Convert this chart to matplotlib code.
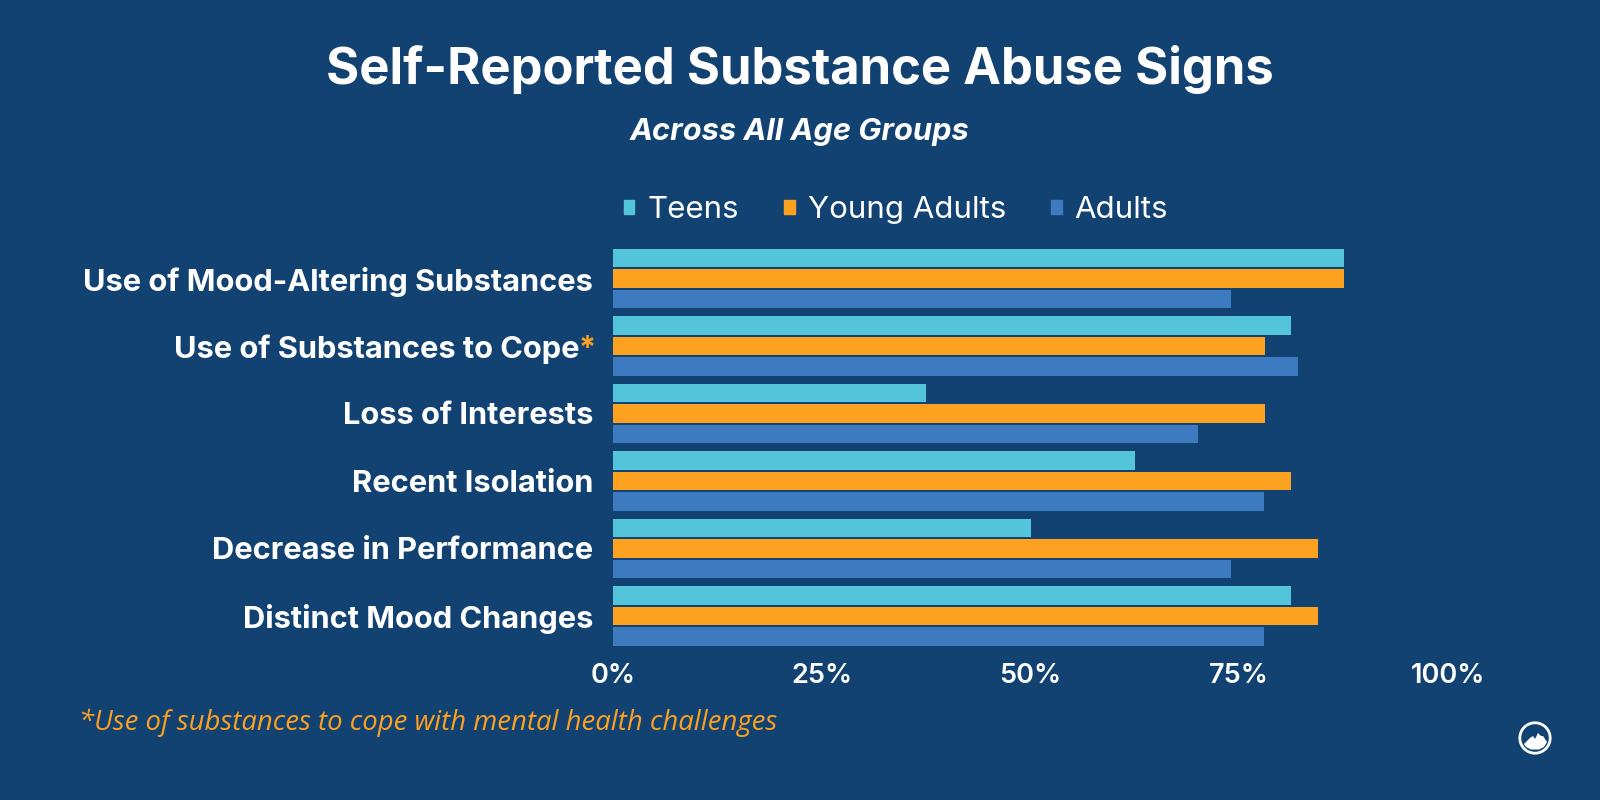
import matplotlib
matplotlib.use("Agg")
import matplotlib.pyplot as plt
from matplotlib.patches import Patch, Circle, Polygon
import numpy as np

categories = ["Use of Mood-Altering Substances", "Use of Substances to Cope", "Loss of Interests",
              "Recent Isolation", "Decrease in Performance", "Distinct Mood Changes"]
teens = [87.5, 81.25, 37.5, 62.5, 50, 81.25]
young_adults = [87.5, 78.1, 78.1, 81.25, 84.4, 84.4]
adults = [74, 82, 70, 78, 74, 78]
xticks = [0, 25, 50, 75, 100]
xticklabels = ["0%", "25%", "50%", "75%", "100%"]
series_names = ["Teens", "Young Adults", "Adults"]

BG = "#124272"
COLS = ["#53C4D9", "#FCA120", "#3D7ABF"]
FONT = "Inter"

W, H = 1600, 800
fig = plt.figure(figsize=(16, 8), dpi=100, facecolor=BG)
L, R, T, B = 613, 1448, 244.8, 649.6
ax = fig.add_axes([L / W, 1 - B / H, (R - L) / W, (B - T) / H], facecolor=BG)

y = np.arange(len(categories))
step = 20.4 / ((B - T) / 6)
h = 18.6 / ((B - T) / 6)
for i, (vals, c, name) in enumerate(zip([teens, young_adults, adults], COLS, series_names)):
    ax.barh(y + (i - 1) * step, vals, height=h, color=c, label=name, edgecolor="none")

ax.set_xlim(0, 100)
ax.set_ylim(5.5, -0.5)
ax.set_xticks(xticks, xticklabels, fontsize=19.5, fontweight="semibold", color="white", family=FONT)
ax.set_yticks(y, categories, fontsize=22.2, fontweight="bold", color="white", family=FONT)
ax.tick_params(axis="both", length=0)
ax.tick_params(axis="y", pad=14.4)
ax.tick_params(axis="x", pad=10)
for s in ax.spines.values():
    s.set_visible(False)
ax.yaxis.get_major_ticks()[1].set_pad(23.8)
for lab in ax.get_yticklabels():
    lab.set_verticalalignment("center_baseline")
ax.annotate("*", xy=(0, 1), xycoords=("axes fraction", "data"), xytext=(-12.2, -2),
            textcoords="offset points", ha="right", va="center", color=COLS[1],
            fontsize=22, fontweight="bold", family=FONT)

fig.text(0.5, 1 - 70 / H, "Self-Reported Substance Abuse Signs", ha="center", va="center",
         color="white", fontsize=36.5, fontweight="bold", family=FONT)
fig.text(0.5, 1 - 132.5 / H, "Across All Age Groups", ha="center", va="center",
         color="white", fontsize=22.2, fontweight="bold", style="italic", family=FONT)
fig.text(79 / W, 1 - 723 / H, "*Use of substances to cope with mental health challenges", ha="left", va="center",
         color=COLS[1], fontsize=19.85, style="italic", family="Open Sans")

handles = [Patch(color=c, label=n) for c, n in zip(COLS, series_names)]
leg = fig.legend(handles=handles, ncols=3, loc="center left", bbox_to_anchor=(624 / W, 1 - 210 / H),
                 frameon=False, labelcolor="white", handlelength=0.33, handleheight=0.33,
                 handletextpad=0.42, columnspacing=1.45, borderpad=0, borderaxespad=0,
                 prop={"family": FONT, "size": 22.5})

logo = fig.add_axes([1515 / W, 1 - 758 / H, 40 / W, 40 / H])
logo.set_xlim(-20, 20)
logo.set_ylim(-20, 20)
logo.axis("off")
logo.add_patch(Circle((0, 0), 15.2, fc="none", ec="white", lw=2))
logo.add_patch(Polygon([(-11, -6), (-5, 0), (-2, 2), (0, -1), (3, 5), (6, 2), (8, 2), (12, -4), (9, -9), (4, -11.5), (-4, -11.5), (-9, -9)],
                       fc="white", ec="none"))
fig.savefig("out.png", dpi=100, facecolor=BG)
